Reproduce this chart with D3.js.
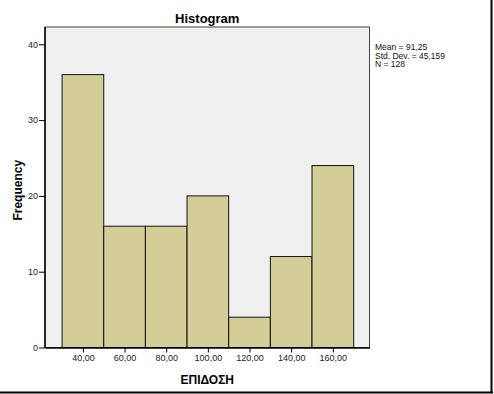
<!DOCTYPE html>
<html><head><meta charset="utf-8">
<script src="https://cdn.jsdelivr.net/npm/d3@7"></script>
<style>body{margin:0;background:#fff;}svg{display:block;font-family:"Liberation Sans",Arial,sans-serif;}</style>
</head><body>
<script>
const binStarts = [30, 50, 70, 90, 110, 130, 150];
const binWidth = 20;
const frequencies = [36, 16, 16, 20, 4, 12, 24];
const xTickValues = [40, 60, 80, 100, 120, 140, 160];
const xTickLabels = ["40,00", "60,00", "80,00", "100,00", "120,00", "140,00", "160,00"];
const yTickValues = [0, 10, 20, 30, 40];
const statsLines = ["Mean = 91,25", "Std. Dev. = 45,159", "N = 128"];
const titleText = "Histogram";
const xTitle = "ΕΠΙΔΟΣΗ";
const yTitle = "Frequency";

const W = 494, H = 394;
const svg = d3.select("body").append("svg").attr("width", W).attr("height", H);
const L = 45, R = 369.5, T = 27, B = 347.5;

const x = d3.scaleLinear().domain([21.8, 177.6]).range([L, R]);
const y = d3.scaleLinear().domain([0, 40]).range([B, 44.3]);

// outer frame
svg.append("line").attr("x1", 0).attr("x2", 493).attr("y1", 392.5).attr("y2", 392.5).attr("stroke", "#000").attr("stroke-width", 2);
svg.append("line").attr("x1", 491.5).attr("x2", 491.5).attr("y1", 0).attr("y2", 393).attr("stroke", "#000").attr("stroke-width", 2);

// plot background
svg.append("rect").attr("x", L).attr("y", T).attr("width", R - L).attr("height", B - T)
  .attr("fill", "#f0f0f0").attr("stroke", "#444").attr("stroke-width", 1);

// bars
svg.selectAll("rect.bar").data(frequencies).enter().append("rect").attr("class", "bar")
  .attr("x", (d, i) => x(binStarts[i]))
  .attr("width", (d, i) => x(binStarts[i] + binWidth) - x(binStarts[i]))
  .attr("y", d => y(d))
  .attr("height", d => B - y(d))
  .attr("fill", "#d3ce97").attr("stroke", "#111").attr("stroke-width", 1);

// axes
const yAxis = d3.axisLeft(y).tickValues(yTickValues).tickSize(6).tickSizeOuter(0).tickPadding(1).tickFormat(d3.format("d"));
const gy = svg.append("g").attr("transform", `translate(${L},0)`).call(yAxis);
gy.select(".domain").remove();
gy.selectAll("text").attr("font-size", 9).attr("fill", "#222").attr("font-family", "Liberation Sans, Arial, sans-serif");

const xAxis = d3.axisBottom(x).tickValues(xTickValues).tickSize(5).tickSizeOuter(0).tickPadding(2)
  .tickFormat((d, i) => xTickLabels[i]);
const gx = svg.append("g").attr("transform", `translate(0,${B})`).call(xAxis);
gx.select(".domain").attr("stroke", "#000").attr("stroke-width", 1.5);
gx.selectAll("text").attr("font-size", 9).attr("fill", "#222").attr("font-family", "Liberation Sans, Arial, sans-serif");

// left axis line
svg.append("line").attr("x1", L).attr("x2", L).attr("y1", T).attr("y2", B).attr("stroke", "#000").attr("stroke-width", 1.5);

// titles
svg.append("text").attr("x", (L + R) / 2).attr("y", 23).attr("text-anchor", "middle")
  .attr("font-size", 13).attr("font-weight", "bold").text(titleText);
svg.append("text").attr("x", (L + R) / 2).attr("y", 384).attr("text-anchor", "middle")
  .attr("font-size", 12).attr("font-weight", "bold").text(xTitle);
svg.append("text").attr("transform", `translate(22,${(T + B) / 2 + 3}) rotate(-90)`).attr("text-anchor", "middle")
  .attr("font-size", 12).attr("font-weight", "bold").text(yTitle);

// stats
svg.append("g").selectAll("text").data(statsLines).enter().append("text")
  .attr("x", 375).attr("y", (d, i) => 50 + i * 8.5)
  .attr("font-size", 8.5).attr("fill", "#111").text(d => d);
</script>
</body></html>
